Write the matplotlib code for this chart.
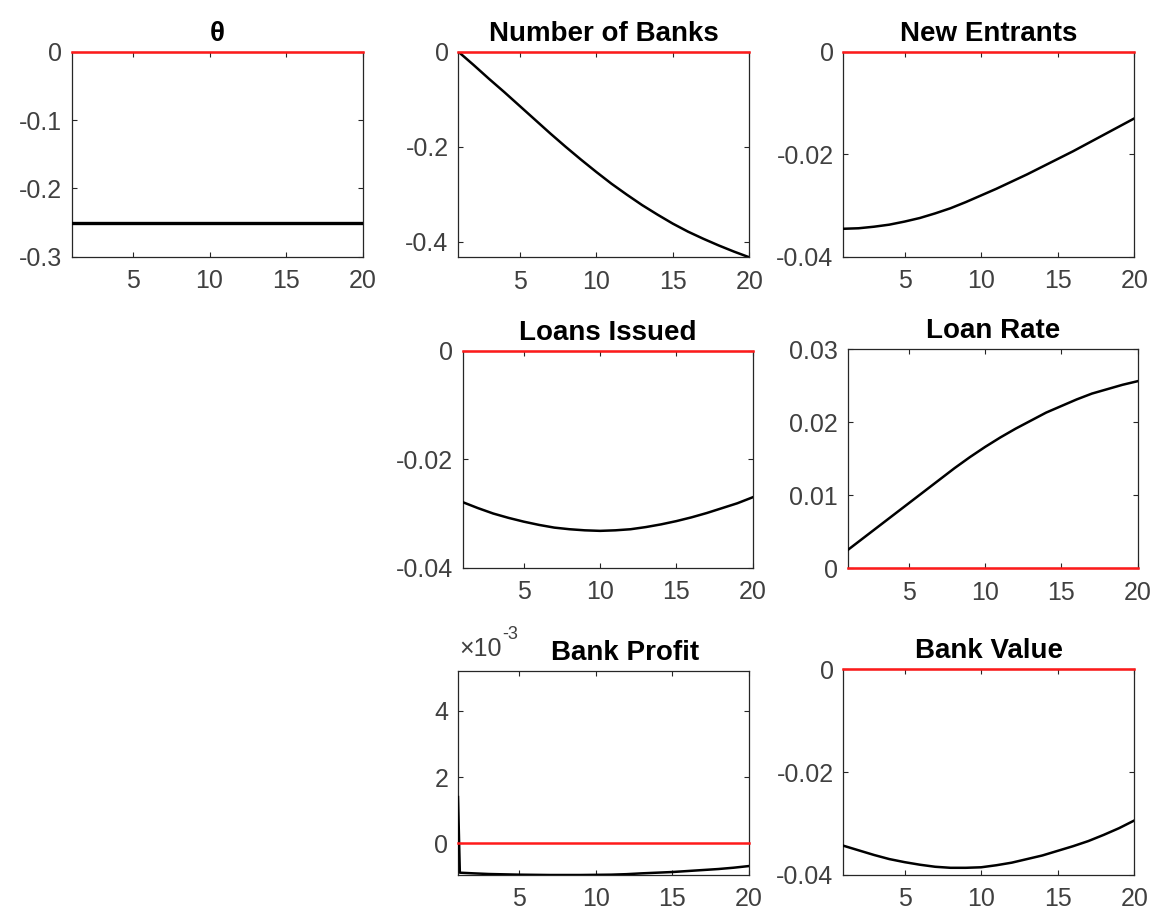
import numpy as np
import matplotlib
matplotlib.use("Agg")
import matplotlib.pyplot as plt
from matplotlib.ticker import FuncFormatter

plt.rcParams['font.family'] = ['Liberation Sans', 'DejaVu Sans']
plt.rcParams['axes.unicode_minus'] = False

W, H = 1157, 916

periodos = np.arange(1, 21)

theta = [-0.25] * 20
num_bancos = [0.0, -0.028, -0.057, -0.085, -0.114, -0.143, -0.172, -0.200, -0.227, -0.253,
              -0.278, -0.301, -0.323, -0.343, -0.362, -0.379, -0.394, -0.408, -0.421, -0.433]
entrantes = [-0.0345, -0.0344, -0.0341, -0.0337, -0.0331, -0.0324, -0.0315, -0.0305, -0.0293, -0.0280,
             -0.0267, -0.0253, -0.0239, -0.0224, -0.0209, -0.0194, -0.0178, -0.0162, -0.0146, -0.0130]
emprestimos = [-0.0279, -0.0290, -0.0300, -0.0308, -0.0315, -0.0321, -0.0326, -0.0329, -0.0331, -0.0332,
               -0.0331, -0.0329, -0.0325, -0.0320, -0.0314, -0.0307, -0.0299, -0.0290, -0.0281, -0.0270]
taxa = [0.0025, 0.0041, 0.0057, 0.0073, 0.0089, 0.0105, 0.0121, 0.0137, 0.0152, 0.0166,
        0.0179, 0.0191, 0.0202, 0.0213, 0.0222, 0.0231, 0.0239, 0.0245, 0.0251, 0.0256]
valor = [-0.0343, -0.0352, -0.0361, -0.0369, -0.0375, -0.0380, -0.0384, -0.0386, -0.0386, -0.0385,
         -0.0381, -0.0376, -0.0369, -0.0362, -0.0353, -0.0344, -0.0334, -0.0322, -0.0309, -0.0294]
# lucro: primeiro ponto cai quase na vertical
lucro_x = [1, 1.12, 2, 3, 4, 5, 6, 7, 8, 9, 10, 11, 12, 13, 14, 15, 16, 17, 18, 19, 20]
lucro = [1.40e-3, -0.88e-3, -0.90e-3, -0.92e-3, -0.93e-3, -0.94e-3, -0.945e-3, -0.95e-3, -0.95e-3,
         -0.95e-3, -0.945e-3, -0.94e-3, -0.925e-3, -0.90e-3, -0.88e-3, -0.86e-3, -0.83e-3,
         -0.80e-3, -0.77e-3, -0.73e-3, -0.68e-3]

# (left, right, top, bottom) em pixels
paineis = [
    ("θ", periodos, theta, (71.7, 362.7, 51.7, 256.7), (-0.3, 0), [0, -0.1, -0.2, -0.3], 1),
    ("Number of Banks", periodos, num_bancos, (458.3, 749.3, 51.7, 257.3), (-0.433, 0), [0, -0.2, -0.4], 1),
    ("New Entrants", periodos, entrantes, (843.3, 1134.3, 51.7, 257.0), (-0.04, 0), [0, -0.02, -0.04], 1),
    ("Loans Issued", periodos, emprestimos, (462.7, 752.7, 351.0, 567.7), (-0.04, 0), [0, -0.02, -0.04], 1),
    ("Loan Rate", periodos, taxa, (847.7, 1137.7, 349.0, 568.3), (0, 0.03), [0, 0.01, 0.02, 0.03], 1),
    ("Bank Profit", lucro_x, lucro, (458.0, 749.0, 671.0, 875.0), (-0.95e-3, 5.2e-3), [0, 2e-3, 4e-3], 1e3),
    ("Bank Value", periodos, valor, (843.3, 1134.3, 669.3, 875.0), (-0.04, 0), [0, -0.02, -0.04], 1),
]

fig = plt.figure(figsize=(W / 100, H / 100), dpi=100)

cinza = '#262626'
for titulo, x, y, (l, r, t, b), ylim, yticks, escala in paineis:
    ax = fig.add_axes([l / W, 1 - b / H, (r - l) / W, (b - t) / H])
    ax.plot(x, y, color='black', lw=2.4 if titulo == "θ" else 1.8, zorder=3)
    ax.plot([1, 20], [0, 0], color='#ff1a1a', lw=1.8, clip_on=False, zorder=4)
    ax.set_xlim(1, 20)
    ax.set_ylim(*ylim)
    ax.set_xticks([5, 10, 15, 20])
    ax.set_yticks(yticks)
    ax.yaxis.set_major_formatter(FuncFormatter(lambda v, p, e=escala: '%g' % round(v * e, 6)))
    ax.tick_params(direction='in', length=3.5, width=0.8, top=True, right=True,
                   labelsize=18, colors=cinza, labelcolor='#404040')
    ax.tick_params(axis='x', pad=9)
    ax.tick_params(axis='y', pad=7)
    for s in ax.spines.values():
        s.set_color(cinza)
        s.set_linewidth(0.9)
    ax.set_title(titulo, fontsize=20, fontweight='bold', pad=8)
    if escala != 1:
        base = ax.annotate('×10', xy=(0, 1), xycoords='axes fraction', xytext=(1, 7),
                           textcoords='offset points', fontsize=18, color='#404040',
                           ha='left', va='bottom')
        ax.annotate('-3', xy=(1, 0.75), xycoords=base, fontsize=13, color='#404040',
                    ha='left', va='bottom')
        ax.title.set_position((0.575, 1.0))

fig.savefig("out.png", dpi=100)
